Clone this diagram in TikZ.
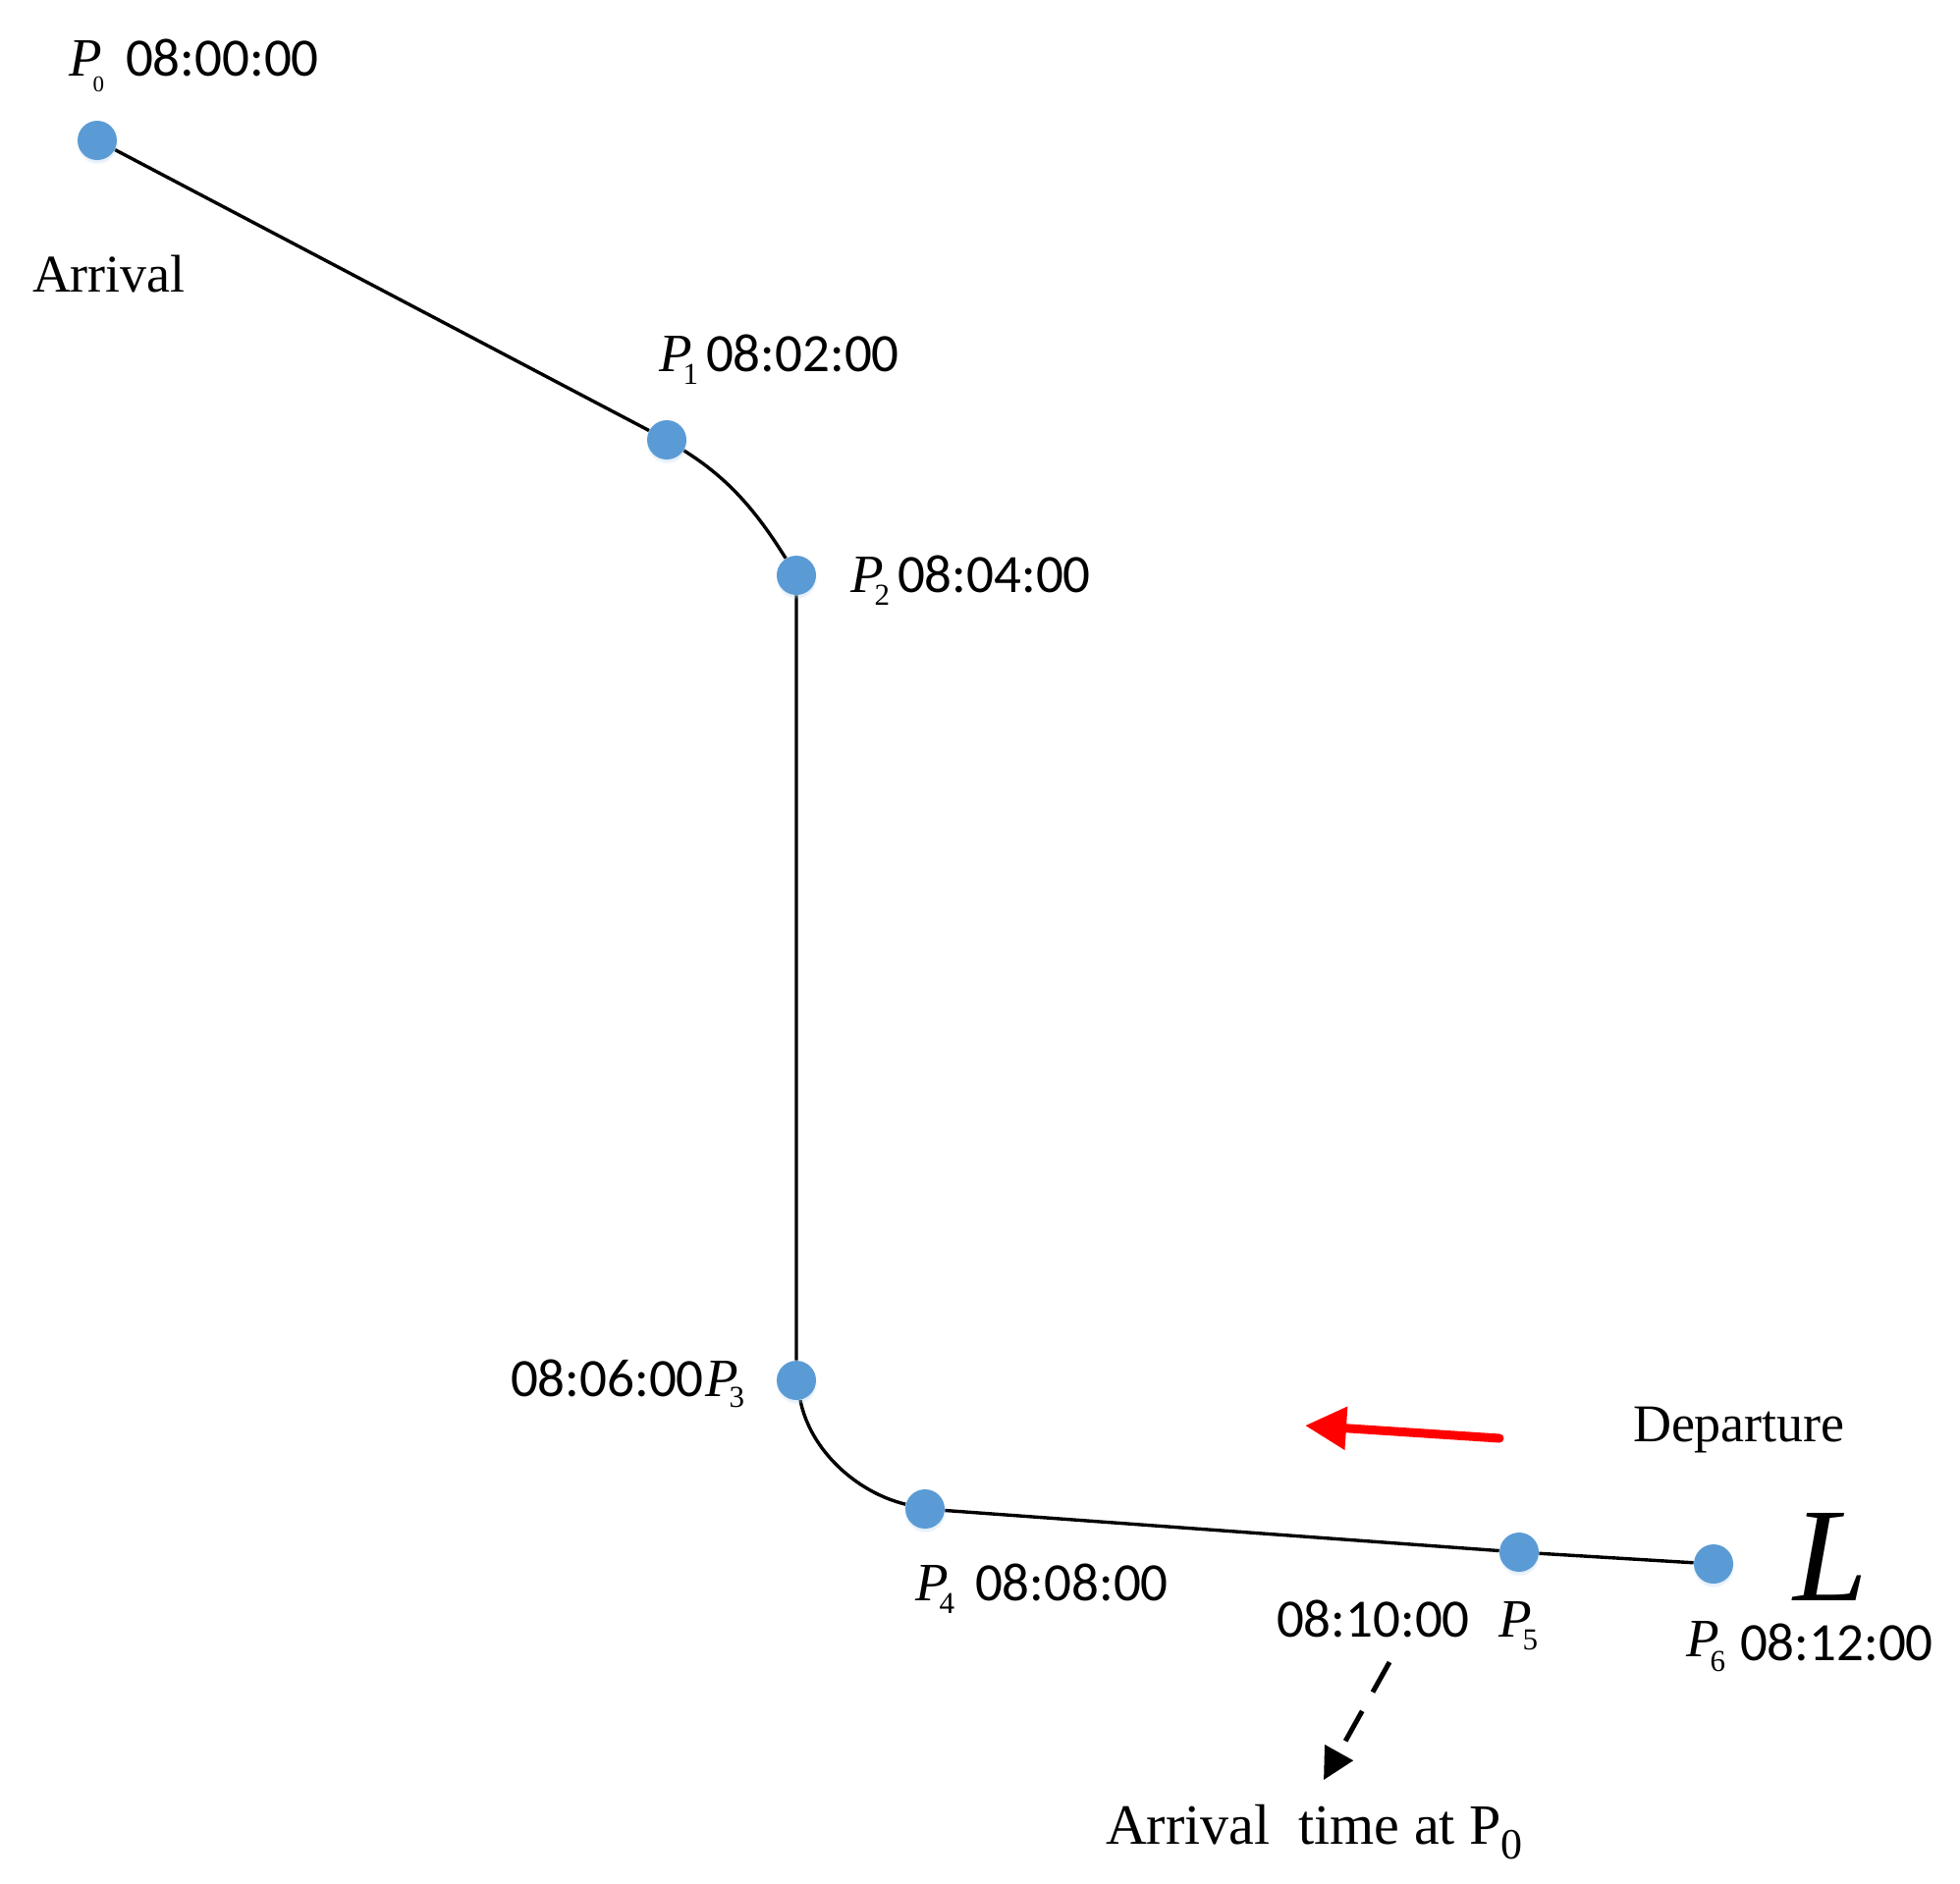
\documentclass[tikz,border=0pt]{standalone}
\usepackage{fontspec}
\setmainfont{Liberation Serif}
\newfontfamily\clbfont{Carlito}
\usetikzlibrary{arrows.meta,backgrounds,shadows}
\definecolor{dotc}{RGB}{91,155,213}
\definecolor{arrred}{RGB}{255,0,0}
\newcommand\timefont{\clbfont\fontsize{27.5}{30}\selectfont}
\newcommand\pfont{\fontsize{27.5}{30}\selectfont\itshape}
\newcommand\subfont{\fontsize{15.5}{16}\selectfont\upshape}
\newcommand\Psub[2][6.5pt]{P\kern-4.5pt\raisebox{-#1}{\subfont #2}}
\begin{document}
\begin{tikzpicture}[x=0.5pt,y=-0.5pt,
  dot/.style={circle,fill=dotc,minimum size=20pt,inner sep=0pt,
    circular drop shadow={shadow xshift=0pt,shadow yshift=-1.5pt,shadow scale=1.06,fill=dotc!45,opacity=0.35}},
  lbl/.style={inner sep=0pt,outer sep=0pt,anchor=base west},
  timelbl/.style={lbl,font=\timefont},
  plbl/.style={lbl,font=\pfont},
  txtlbl/.style={lbl,font=\fontsize{27}{30}\selectfont},
  trk/.style={draw=black,line width=1.7pt},
]
\useasboundingbox (0,0) rectangle (1996,1918);

% points
\node[dot] (p0) at (99,143) {};
\node[dot] (p1) at (679,448) {};
\node[dot] (p2) at (811,586) {};
\node[dot] (p3) at (811,1406) {};
\node[dot] (p4) at (942,1537) {};
\node[dot] (p5) at (1547,1581) {};
\node[dot] (p6) at (1745,1593) {};

% route
\begin{scope}[on background layer]
\draw[trk] (p0) -- (p1)
  .. controls +(64,40) and +(-40,-64) .. (p2)
  -- (p3)
  .. controls +(14,71) and +(-70,-17) .. (p4)
  -- (p5) -- (p6);
\end{scope}

% labels
\node[plbl] (lp0) at (70,77) {\Psub[8pt]{\fontsize{11.5}{12}\selectfont 0}};
\node[timelbl] (t0) at (128,77) {08:00:00};
\node[plbl] (lp1) at (671,378) {\Psub{1}};
\node[timelbl] (t1) at (719,378) {08:02:00};
\node[plbl] (lp2) at (866,603) {\Psub{2}};
\node[timelbl] (t2) at (914,603) {08:04:00};
\node[timelbl] (t3) at (520,1422) {08:06:00};
\node[plbl] (lp3) at (718,1422) {\Psub[5.5pt]{3}};
\node[plbl] (lp4) at (932,1630) {\Psub{4}};
\node[timelbl] (t4) at (993,1630) {08:08:00};
\node[timelbl] (t5) at (1300,1667) {08:10:00};
\node[plbl] (lp5) at (1526,1667) {\Psub{5}};
\node[plbl] (lp6) at (1717,1687) {\Psub[7.5pt]{6}};
\node[timelbl] (t6) at (1772,1691) {08:12:00};

\node[txtlbl] (arr) at (33,297) {Arrival};
\node[txtlbl] (dep) at (1663,1468) {Departure};
\node[lbl,font=\fontsize{68}{70}\selectfont\itshape] (bigL) at (1826,1630) {L};
\node[lbl,font=\fontsize{29}{32}\selectfont] (arrp0) at (1126,1878)
  {Arrival\ \ time at P\raisebox{-7.5pt}{\fontsize{22}{22}\selectfont 0}};

% red direction arrow
\coordinate (ra1) at (1527,1465);
\coordinate (ra2) at (1329,1452);
\draw[draw=arrred,line width=4.5pt,line cap=round,
  -{Triangle[length=21pt,width=21pt,fill=arrred]}] (ra1) -- (ra2);

% dashed arrow
\coordinate (da1) at (1415,1693);
\coordinate (da2) at (1348,1813);
\draw[line width=2.5pt,dash pattern=on 17.5pt off 11pt,
  -{Triangle[length=16pt,width=16pt]}] (da1) -- (da2);
\end{tikzpicture}
\end{document}
